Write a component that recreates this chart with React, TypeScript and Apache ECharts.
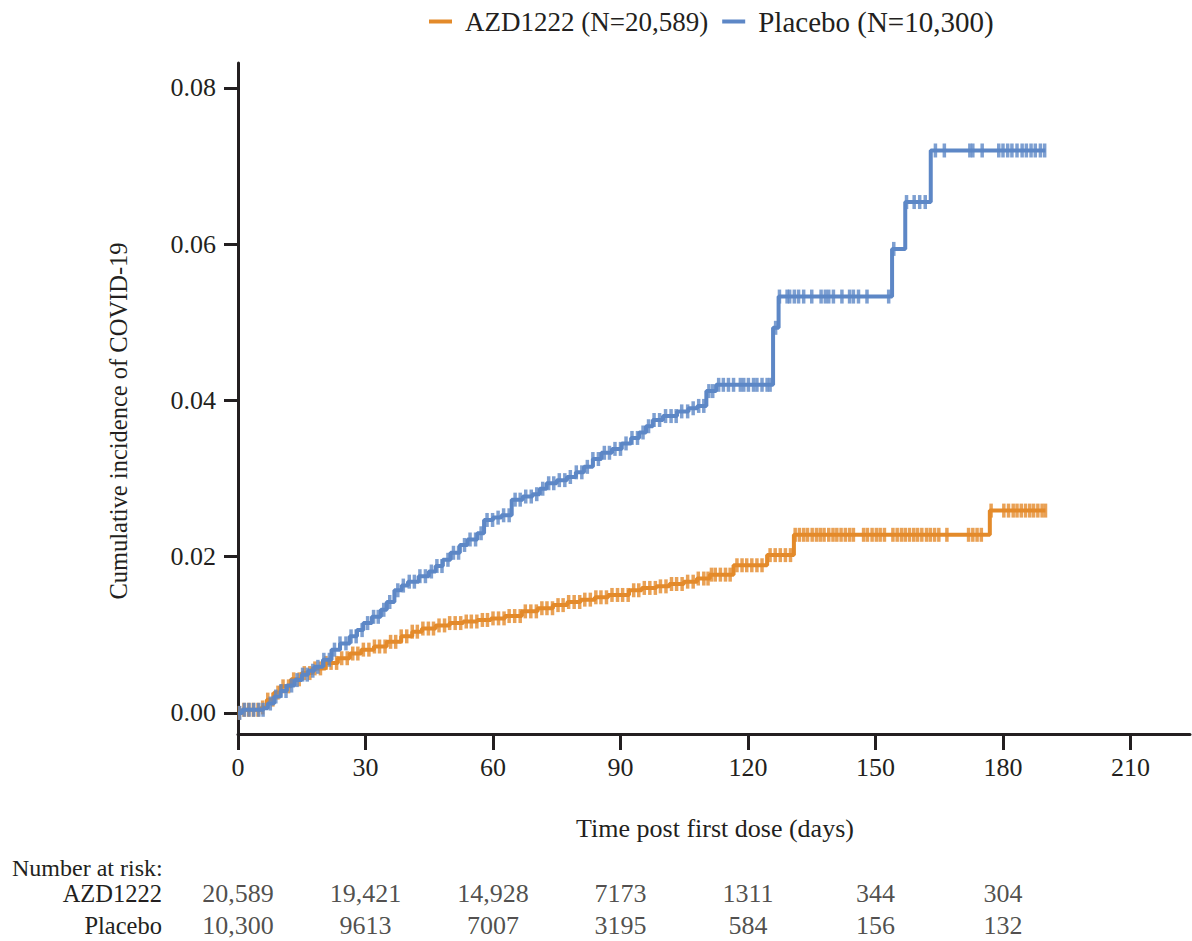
import React, { useEffect, useRef } from "react";
import * as echarts from "echarts";

const xTicks = [0, 30, 60, 90, 120, 150, 180, 210];
const yTicks = [0, 0.02, 0.04, 0.06, 0.08];

const azdName = "AZD1222 (N=20,589)";
const placeboName = "Placebo (N=10,300)";

// Kaplan-Meier style step points [day, cumulative incidence]
const azdSteps: [number, number][] = [
  [0, 0], [1, 0.0004], [5.5, 0.0007], [6.8, 0.0017], [8.5, 0.0026], [10, 0.0034],
  [12.5, 0.0043], [15, 0.0051], [17.5, 0.0057], [20.6, 0.0064], [23.5, 0.007],
  [26.3, 0.0076], [29, 0.0081], [32, 0.0085], [35, 0.0091], [38.4, 0.0098],
  [41, 0.0104], [43.3, 0.0108], [46.5, 0.0112], [49.8, 0.0115], [53, 0.0117],
  [56.3, 0.0119], [59.5, 0.0121], [62.8, 0.0124], [66.8, 0.013], [70.5, 0.0134],
  [74.1, 0.0138], [77.5, 0.0142], [80.6, 0.0145], [84, 0.0148], [87.1, 0.0151],
  [92, 0.0157], [95, 0.016], [98.4, 0.0162], [101.5, 0.0165], [104.9, 0.0168],
  [108, 0.0172], [111, 0.0177], [116.6, 0.0189], [124.5, 0.0202], [130.8, 0.0228],
  [176.9, 0.0259], [190, 0.0259],
];

const placeboSteps: [number, number][] = [
  [0, 0], [1, 0.0004], [6, 0.0006], [7, 0.0012], [8.5, 0.0021], [10, 0.0028],
  [11.5, 0.0035], [13.3, 0.0042], [15, 0.0049], [16.5, 0.0054], [18, 0.0059],
  [20, 0.0068], [22, 0.0081], [24, 0.0089], [26.3, 0.0098], [28, 0.0106],
  [29.5, 0.0115], [31.5, 0.0123], [33.6, 0.0132], [35, 0.0142], [36.8, 0.0157],
  [38.5, 0.0163], [40, 0.0168], [42.5, 0.0175], [44.9, 0.0181], [46.5, 0.0188],
  [48.2, 0.0196], [50, 0.0205], [52.2, 0.0215], [54, 0.0222], [56.3, 0.023],
  [57.9, 0.0247], [60, 0.025], [62, 0.0253], [64.4, 0.0273], [67, 0.0277],
  [69.3, 0.028], [71, 0.0287], [72.6, 0.0294], [75, 0.0298], [77.4, 0.0302],
  [79.5, 0.0308], [81.4, 0.0315], [83.5, 0.0325], [85.5, 0.0333], [88, 0.0338],
  [90.3, 0.0345], [92.5, 0.0352], [94.4, 0.0359], [96, 0.0367], [97.6, 0.0375],
  [100, 0.038], [103.3, 0.0386], [106, 0.039], [108.1, 0.0393], [110.2, 0.0412],
  [112.5, 0.042], [125.9, 0.0493], [127.2, 0.0533], [153.9, 0.0594], [157, 0.0654],
  [163, 0.072], [190, 0.072],
];

// Censoring times (days)
const azdCensor = [
  0.3, 1.4, 2.5, 3.6, 4.7, 5.8, 7.0, 8.2, 9.4, 10.6, 11.9, 13.1, 14.4, 15.6, 16.9,
  18.1, 19.4, 20.7, 21.9, 23.2, 24.4, 25.7, 27.0, 28.2, 29.5, 30.8, 32.1, 33.3, 34.6,
  35.9, 37.1, 38.4, 39.7, 41.0, 42.2, 43.5, 44.8, 46.0, 47.3, 48.6, 49.8, 51.1, 52.4,
  53.7, 54.9, 56.2, 57.5, 58.7, 60.0, 61.3, 62.6, 63.8, 65.1, 66.4, 67.6, 68.9, 70.2,
  71.5, 72.7, 74.0, 75.3, 76.5, 77.8, 79.1, 80.4, 81.6, 82.9, 84.2, 85.4, 86.7, 88.0,
  89.3, 90.5, 91.8, 93.1, 94.3, 95.6, 96.9, 98.2, 99.4, 100.7, 102.0, 103.2, 104.5,
  105.8, 107.1, 108.3, 109.6, 110.6, 111.4, 112.3, 113.5, 114.7, 115.8, 117.4, 118.6,
  119.7, 120.9, 122.1, 123.3, 125.2, 126.4, 127.6, 128.8, 130.0, 131.1, 132.1, 133.1,
  134.0, 135.1, 136.1, 137.0, 137.9, 139.0, 140.0, 140.9, 141.9, 142.9, 143.9, 144.8,
  147.2, 148.1, 149.2, 150.2, 151.1, 152.1, 154.1, 155.1, 156.1, 157.0, 158.0, 159.0,
  159.9, 160.9, 162.0, 162.9, 163.9, 164.9, 166.8, 171.9, 172.9, 173.9, 174.9, 177.2,
  180.2, 181.3, 182.4, 183.3, 184.3, 185.3, 186.3, 187.2, 188.2, 189.2, 190.0,
];

const placeboCensor = [
  0.4, 1.5, 2.6, 3.7, 4.9, 5.9, 7.6, 8.9, 10.1, 11.3, 12.6, 13.9, 15.2, 16.3, 17.6,
  18.8, 20.2, 21.5, 22.7, 24.0, 25.4, 26.6, 27.8, 29.2, 30.5, 31.9, 33.0, 34.3, 35.7,
  37.6, 38.9, 40.3, 41.5, 42.8, 44.1, 45.5, 46.8, 48.0, 49.4, 50.7, 51.9, 53.3, 54.6,
  55.9, 57.2, 58.6, 59.9, 61.2, 62.5, 63.8, 65.2, 66.4, 67.7, 69.0, 70.3, 71.7, 73.1,
  74.3, 75.6, 76.9, 78.2, 79.6, 80.9, 82.2, 83.5, 84.8, 86.2, 87.4, 88.7, 90.0, 91.3,
  92.7, 94.0, 95.3, 96.6, 97.9, 99.2, 100.6, 101.9, 103.1, 104.4, 105.8, 107.1, 108.4,
  109.6, 110.8, 111.7, 113.1, 114.2, 115.4, 116.6, 118.2, 119.0, 120.1, 121.3, 122.1,
  123.3, 124.5, 125.2, 126.5, 127.4, 129.2, 129.8, 130.9, 131.9, 133.1, 135.0, 137.2,
  138.2, 139.0, 140.1, 142.1, 143.9, 144.8, 146.0, 148.0, 153.1, 154.3, 157.3, 159.1,
  160.4, 161.7, 164.1, 166.2, 172.2, 172.9, 175.1, 179.0, 180.0, 181.1, 182.1, 183.3,
  184.5, 185.5, 186.6, 187.6, 188.8, 189.8,
];

// Number at risk table
const riskDays = [0, 30, 60, 90, 120, 150, 180];
const riskAZD = [20589, 19421, 14928, 7173, 1311, 344, 304];
const riskPlacebo = [10300, 9613, 7007, 3195, 584, 156, 132];
const riskRows = ["AZD1222", "Placebo"];

const ORANGE = "#E38A2A";
const BLUE = "#5D87C6";
const INK = "#231F20";
const FONT = "'Liberation Serif', 'Times New Roman', serif";

function stepValueAt(steps: [number, number][], t: number): number {
  let v = steps[0][1];
  for (const [d, val] of steps) {
    if (d <= t) v = val;
    else break;
  }
  return v;
}

function fmtRisk(n: number): string {
  return n >= 10000 ? n.toLocaleString("en-US") : String(n);
}

export default function App() {
  const ref = useRef<HTMLDivElement>(null);

  useEffect(() => {
    document.body.style.margin = "0";
    if (!ref.current) return;
    const chart = echarts.init(ref.current, undefined, { renderer: "svg" });

    const censorSymbol = {
      type: "scatter" as const,
      symbol: "rect",
      symbolSize: [3.5, 14],
      xAxisIndex: 0,
      yAxisIndex: 0,
      silent: true,
    };

    const riskData = [
      ...riskDays.map((d, i) => [d, riskRows[0], riskAZD[i]]),
      ...riskDays.map((d, i) => [d, riskRows[1], riskPlacebo[i]]),
    ];

    chart.setOption({
      animation: false,
      backgroundColor: "#fff",
      textStyle: { fontFamily: FONT, color: INK },
      legend: {
        data: [
          { name: azdName, itemStyle: { color: ORANGE } },
          { name: placeboName, itemStyle: { color: BLUE }, textStyle: { fontSize: 29 } },
        ],
        icon: "rect",
        itemWidth: 23,
        itemHeight: 4,
        itemGap: 14,
        left: 424,
        top: 2,
        textStyle: { fontFamily: FONT, fontSize: 27, color: INK, padding: [0, 0, 0, 8] },
      },
      grid: [
        { left: 238, top: 63, right: 2, bottom: 207 },
        { left: 238, top: 878, right: 2, height: 64 },
      ],
      xAxis: [
        {
          type: "value",
          gridIndex: 0,
          min: 0,
          max: 224,
          splitLine: { show: false },
          axisLine: { onZero: false, lineStyle: { color: INK, width: 3 } },
          axisTick: { customValues: xTicks, length: 16, lineStyle: { color: INK, width: 3 } },
          axisLabel: {
            customValues: xTicks,
            fontSize: 26,
            fontFamily: FONT,
            color: INK,
            margin: 20,
          },
        },
        {
          type: "value",
          gridIndex: 1,
          min: 0,
          max: 224,
          show: false,
        },
      ],
      yAxis: [
        {
          type: "value",
          gridIndex: 0,
          min: -0.0027,
          max: 0.0832,
          splitLine: { show: false },
          axisLine: { show: true, onZero: false, lineStyle: { color: INK, width: 3 } },
          axisTick: { show: true, customValues: yTicks, length: 14, lineStyle: { color: INK, width: 3 } },
          axisLabel: {
            customValues: yTicks,
            formatter: (v: number) => v.toFixed(2),
            fontSize: 26,
            fontFamily: FONT,
            color: INK,
            margin: 22,
          },
        },
        {
          type: "category",
          gridIndex: 1,
          data: riskRows,
          inverse: true,
          axisLine: { show: false },
          axisTick: { show: false },
          splitLine: { show: false },
          axisLabel: { interval: 0, fontSize: 24.5, fontFamily: FONT, color: INK, margin: 76 },
        },
      ],
      graphic: [
        {
          type: "text",
          x: 118,
          y: 421,
          rotation: Math.PI / 2,
          style: {
            text: "Cumulative incidence of COVID-19",
            fontSize: 24.5,
            fontFamily: FONT,
            fill: INK,
            align: "center",
            verticalAlign: "middle",
          },
        },
        {
          type: "text",
          x: 715,
          y: 828,
          style: {
            text: "Time post first dose (days)",
            fontSize: 26,
            fontFamily: FONT,
            fill: INK,
            align: "center",
            verticalAlign: "middle",
          },
        },
        {
          type: "text",
          x: 12,
          y: 868,
          style: {
            text: "Number at risk:",
            fontSize: 24,
            fontFamily: FONT,
            fill: INK,
            align: "left",
            verticalAlign: "middle",
          },
        },
      ],
      series: [
        {
          name: azdName,
          type: "line",
          step: "end",
          data: azdSteps,
          showSymbol: false,
          symbol: "none",
          lineStyle: { color: ORANGE, width: 4 },
          itemStyle: { color: ORANGE },
          z: 2,
        },
        {
          ...censorSymbol,
          name: azdName,
          data: azdCensor.map((t) => [t, stepValueAt(azdSteps, t)]),
          itemStyle: { color: ORANGE },
          z: 3,
        },
        {
          name: placeboName,
          type: "line",
          step: "end",
          data: placeboSteps,
          showSymbol: false,
          symbol: "none",
          lineStyle: { color: BLUE, width: 4 },
          itemStyle: { color: BLUE },
          z: 4,
        },
        {
          ...censorSymbol,
          name: placeboName,
          data: placeboCensor.map((t) => [t, stepValueAt(placeboSteps, t)]),
          itemStyle: { color: BLUE },
          z: 5,
        },
        {
          name: "risk",
          type: "scatter",
          xAxisIndex: 1,
          yAxisIndex: 1,
          symbolSize: 0,
          silent: true,
          data: riskData,
          label: {
            show: true,
            position: "inside",
            fontSize: 26,
            fontFamily: FONT,
            color: INK,
            formatter: (p: any) => fmtRisk(p.data[2]),
          },
        },
      ],
    });

    return () => chart.dispose();
  }, []);

  return <div ref={ref} style={{ width: 1192, height: 941 }} />;
}
